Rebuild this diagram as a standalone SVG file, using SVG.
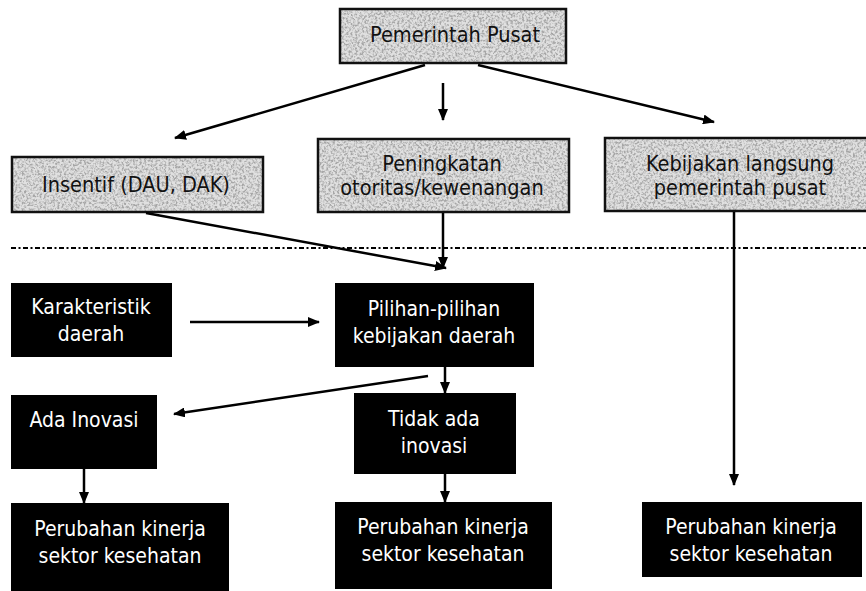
<svg xmlns="http://www.w3.org/2000/svg" width="866" height="591" viewBox="0 0 866 591">
<defs>
<filter id="speckle" x="0" y="0" width="100%" height="100%">
<feTurbulence type="fractalNoise" baseFrequency="0.45" numOctaves="3" seed="3" result="n"/>
<feColorMatrix in="n" type="matrix" values="0 0 0 0 0.38  0 0 0 0 0.38  0 0 0 0 0.38  0 0 0 -3.2 1.9" result="dots"/>
<feFlood flood-color="#e0e0e0" result="bg"/>
<feComposite in="dots" in2="bg" operator="over" result="tex"/>
<feComposite in="tex" in2="SourceGraphic" operator="in"/>
</filter>
<marker id="ah" viewBox="0 0 12 10" refX="11" refY="5" markerWidth="12" markerHeight="10" markerUnits="userSpaceOnUse" orient="auto">
<path d="M0,0 L12,5 L0,10 z" fill="#000"/>
</marker>
<style>
.tex{fill:#ddd;filter:url(#speckle)}
.tb{fill:none;stroke:#111;stroke-width:2.5}
.bb{fill:#000}
.tt{font-family:"DejaVu Sans Condensed","DejaVu Sans",sans-serif;font-stretch:condensed;font-size:21.5px;fill:#111;text-anchor:middle}
.wt{font-family:"DejaVu Sans Condensed","DejaVu Sans",sans-serif;font-stretch:condensed;font-size:21px;fill:#fff;text-anchor:middle}
.c{fill:none;stroke:#000;stroke-width:2.5;marker-end:url(#ah)}
</style>
</defs>
<g id="pemerintah-pusat">
<rect class="tex" x="340" y="9" width="226" height="54"/>
<rect class="tb" x="340" y="9" width="226" height="54"/>
<text class="tt" x="455" y="42">Pemerintah Pusat</text>
</g>
<g id="insentif">
<rect class="tex" x="12" y="157" width="251" height="55"/>
<rect class="tb" x="12" y="157" width="251" height="55"/>
<text class="tt" x="136" y="192">Insentif (DAU, DAK)</text>
</g>
<g id="peningkatan">
<rect class="tex" x="318" y="139" width="251" height="73"/>
<rect class="tb" x="318" y="139" width="251" height="73"/>
<text class="tt" x="442" y="171">Peningkatan</text>
<text class="tt" x="442" y="195">otoritas/kewenangan</text>
</g>
<g id="kebijakan-langsung">
<rect class="tex" x="605" y="138" width="264" height="73"/>
<rect class="tb" x="605" y="138" width="264" height="73"/>
<text class="tt" x="740" y="171">Kebijakan langsung</text>
<text class="tt" x="740" y="195">pemerintah pusat</text>
</g>
<g id="karakteristik">
<rect class="bb" x="11" y="283" width="161" height="74"/>
<text class="wt" x="91" y="314">Karakteristik</text>
<text class="wt" x="91" y="341">daerah</text>
</g>
<g id="pilihan">
<rect class="bb" x="335" y="283" width="199" height="84"/>
<text class="wt" x="434" y="316">Pilihan-pilihan</text>
<text class="wt" x="434" y="343">kebijakan daerah</text>
</g>
<g id="ada-inovasi">
<rect class="bb" x="11" y="395" width="146" height="74"/>
<text class="wt" x="84" y="427">Ada Inovasi</text>
</g>
<g id="tidak-ada-inovasi">
<rect class="bb" x="354" y="393" width="162" height="81"/>
<text class="wt" x="434" y="426">Tidak ada</text>
<text class="wt" x="434" y="453">inovasi</text>
</g>
<g id="perubahan-1">
<rect class="bb" x="11" y="503" width="218" height="88"/>
<text class="wt" x="120" y="536">Perubahan kinerja</text>
<text class="wt" x="120" y="563">sektor kesehatan</text>
</g>
<g id="perubahan-2">
<rect class="bb" x="335" y="502" width="217" height="87"/>
<text class="wt" x="443" y="534">Perubahan kinerja</text>
<text class="wt" x="443" y="561">sektor kesehatan</text>
</g>
<g id="perubahan-3">
<rect class="bb" x="642" y="502" width="220" height="75"/>
<text class="wt" x="751" y="534">Perubahan kinerja</text>
<text class="wt" x="751" y="561">sektor kesehatan</text>
</g>
<g id="connectors">
<line x1="11" y1="248" x2="866" y2="248" stroke="#000" stroke-width="2" stroke-dasharray="5,2.5,2,2.5"/>
<line class="c" x1="425" y1="65" x2="175" y2="138"/>
<line class="c" x1="443" y1="83" x2="443" y2="120"/>
<line class="c" x1="478" y1="65" x2="714" y2="122"/>
<line class="c" x1="146" y1="213" x2="446" y2="268"/>
<line class="c" x1="443" y1="213" x2="443" y2="268"/>
<line class="c" x1="734" y1="212" x2="734" y2="485"/>
<line class="c" x1="190" y1="322" x2="319" y2="322"/>
<line class="c" x1="428" y1="376" x2="174" y2="414"/>
<line class="c" x1="445" y1="367" x2="445" y2="393"/>
<line class="c" x1="84" y1="469" x2="84" y2="503"/>
<line class="c" x1="445" y1="474" x2="445" y2="502"/>
</g>
</svg>
